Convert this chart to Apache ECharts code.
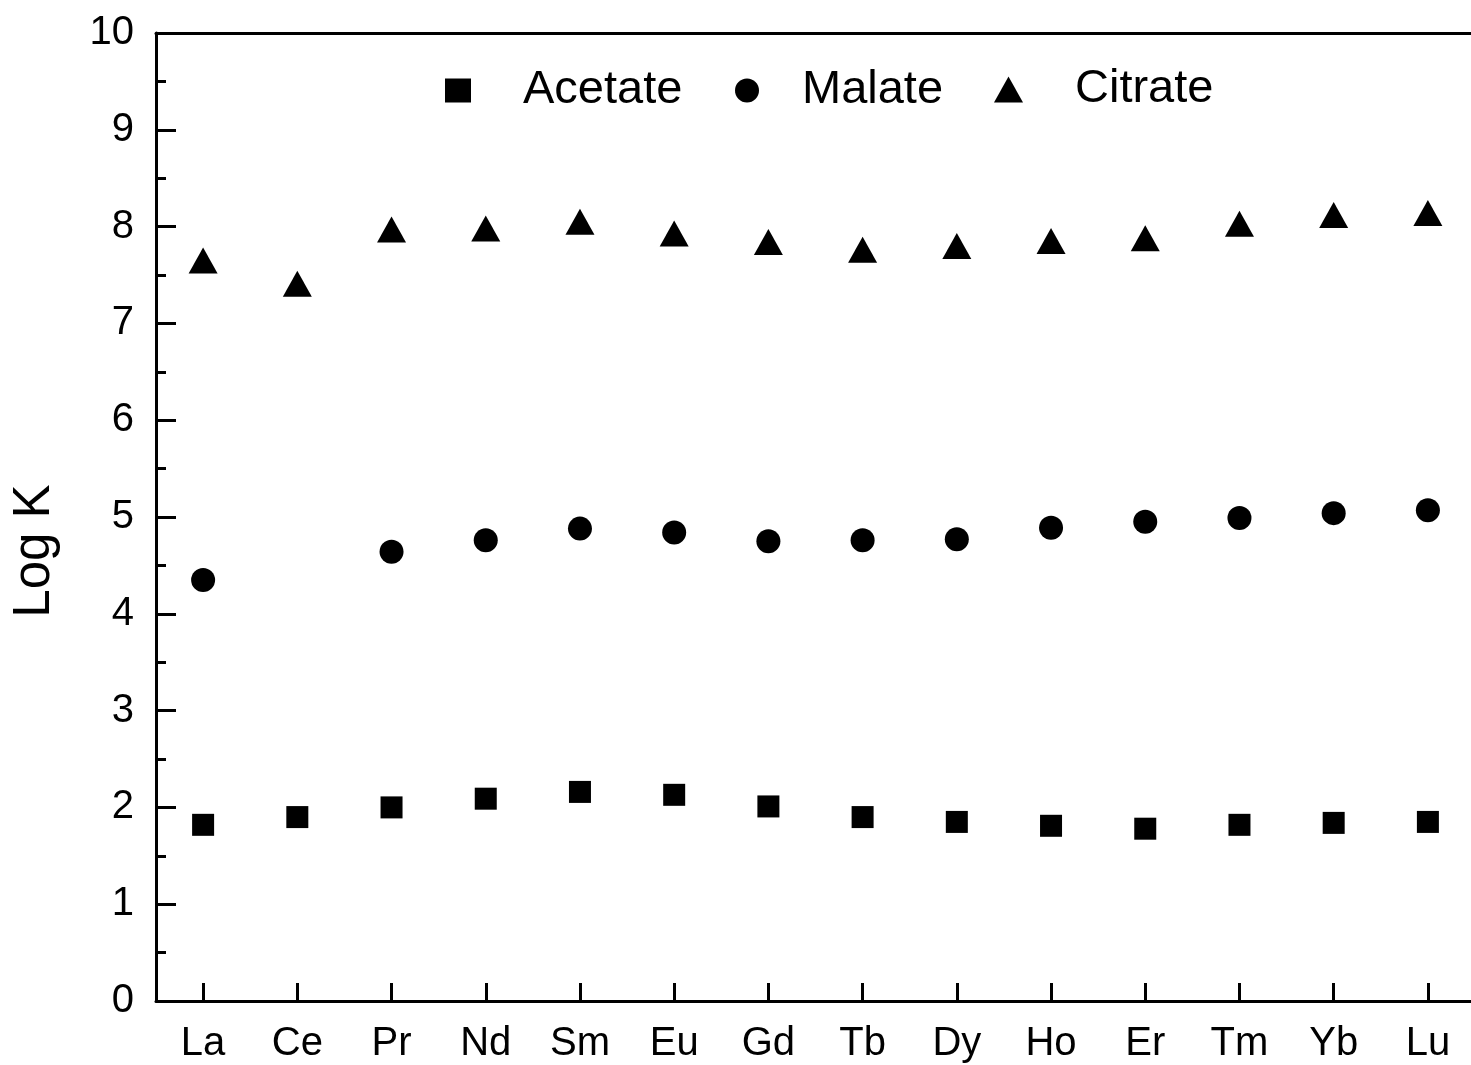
<!DOCTYPE html>
<html>
<head>
<meta charset="utf-8">
<script src="https://cdn.jsdelivr.net/npm/echarts@6/dist/echarts.min.js"></script>
<style>html,body{margin:0;padding:0;background:#fff;overflow:hidden;width:1471px;height:1065px;}#c{width:1480px;height:1065px;}</style>
</head>
<body>
<div id="c"></div>
<script>
const categories = ['La','Ce','Pr','Nd','Sm','Eu','Gd','Tb','Dy','Ho','Er','Tm','Yb','Lu'];
const acetate = [1.82,1.90,2.00,2.09,2.16,2.13,2.01,1.90,1.85,1.81,1.78,1.82,1.84,1.85];
const malate  = [4.35,null,4.64,4.76,4.88,4.84,4.75,4.76,4.77,4.89,4.95,4.99,5.04,5.07];
const citrate = [7.65,7.41,7.97,7.98,8.05,7.93,7.84,7.76,7.80,7.85,7.88,8.03,8.12,8.14];
const yTicks = [0,1,2,3,4,5,6,7,8,9,10];

const FONT = '"Liberation Sans", Arial, sans-serif';
const chart = echarts.init(document.getElementById('c'), null, {renderer:'canvas'});
function leg(name, left, top, pad, w, h, keep){
  return {
    data:[name], left:left, top:top, orient:'horizontal', padding:0,
    itemWidth:w, itemHeight:h, symbolKeepAspect:keep,
    textStyle:{fontFamily:FONT, fontSize:47, color:'#000', padding:[0,0,0,pad]},
    selectedMode:false
  };
}
chart.setOption({
  animation:false,
  backgroundColor:'#fff',
  grid:{left:156, top:33, width:1319, bottom:64, containLabel:false},
  legend:[
    leg('Acetate',445,67,47,26,24,true),
    leg('Malate',735,67,37,26,24,true),
    leg('Citrate',994,66,47,29,26,false)
  ],
  xAxis:[{
    type:'category', data:categories, boundaryGap:true,
    axisLine:{show:true, lineStyle:{color:'#000', width:3}},
    axisTick:{show:true, inside:true, alignWithLabel:true, length:18, lineStyle:{color:'#000', width:3}},
    axisLabel:{fontFamily:FONT, fontSize:40, color:'#000', margin:23, interval:0},
    splitLine:{show:false}
  },{
    type:'category', data:categories, position:'top',
    axisLine:{show:true, lineStyle:{color:'#000', width:3}},
    axisTick:{show:false}, axisLabel:{show:false}, splitLine:{show:false}
  }],
  yAxis:[{
    type:'value', min:yTicks[0], max:yTicks[yTicks.length-1], interval:1,
    name:'Log K', nameLocation:'middle', nameGap:96, nameRotate:90,
    nameTextStyle:{fontFamily:FONT, fontSize:51, color:'#000', padding:[0,68,0,0]},
    axisLine:{show:true, lineStyle:{color:'#000', width:3}},
    axisTick:{show:true, inside:true, length:20, lineStyle:{color:'#000', width:3}},
    minorTick:{show:true, splitNumber:2, length:10, lineStyle:{color:'#000', width:3}},
    axisLabel:{fontFamily:FONT, fontSize:40, color:'#000', margin:22},
    splitLine:{show:false}
  }],
  series:[
    {name:'Acetate', type:'scatter', data:acetate, symbol:'rect', symbolSize:22, itemStyle:{color:'#000', opacity:1}},
    {name:'Malate', type:'scatter', data:malate, symbol:'circle', symbolSize:24, itemStyle:{color:'#000', opacity:1}},
    {name:'Citrate', type:'scatter', data:citrate, symbol:'triangle', symbolSize:[29,26], itemStyle:{color:'#000', opacity:1}}
  ]
});
</script>
</body>
</html>
